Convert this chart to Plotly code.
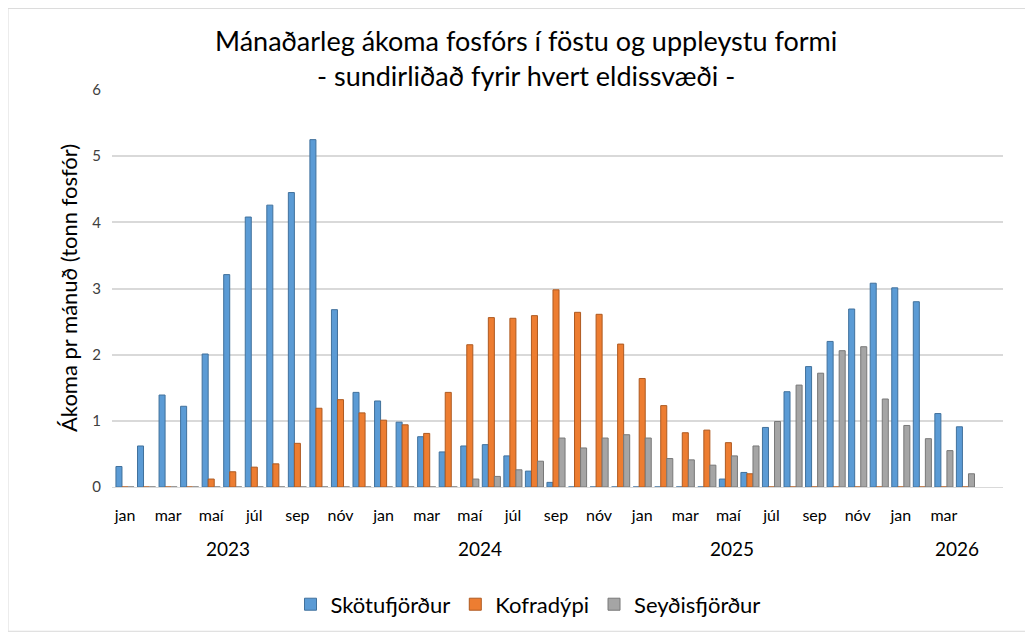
import plotly.graph_objects as go

month_names = ["jan", "feb", "mar", "apr", "maí", "jún", "júl", "ágú", "sep", "okt", "nóv", "des"]
years = [2023, 2024, 2025, 2026]
n_months = 40  # jan 2023 .. apr 2026
month_idx = list(range(n_months))
month_labels = [month_names[i % 12] for i in month_idx]

skotufjordur = [0.31, 0.62, 1.39, 1.22, 2.01, 3.21, 4.08, 4.26, 4.45, 5.25, 2.68, 1.43,
                1.30, 0.98, 0.76, 0.53, 0.62, 0.64, 0.47, 0.24, 0.07, 0.0, 0.0, 0.0,
                0.0, 0.0, 0.0, 0.0, 0.12, 0.22, 0.90, 1.44, 1.82, 2.20, 2.69, 3.08,
                3.01, 2.80, 1.11, 0.91]
kofradypi = [0.0, 0.0, 0.0, 0.0, 0.12, 0.23, 0.30, 0.35, 0.66, 1.19, 1.32, 1.12,
             1.01, 0.94, 0.81, 1.43, 2.15, 2.56, 2.55, 2.59, 2.98, 2.64, 2.61, 2.16,
             1.64, 1.23, 0.82, 0.86, 0.67, 0.20, 0.0, 0.0, 0.0, 0.0, 0.0, 0.0,
             0.0, 0.0, 0.0, 0.0]
seydisfjordur = [0.0, 0.0, 0.0, 0.0, 0.0, 0.0, 0.0, 0.0, 0.0, 0.0, 0.0, 0.0,
                 0.0, 0.0, 0.0, 0.0, 0.12, 0.16, 0.26, 0.39, 0.74, 0.59, 0.74, 0.79,
                 0.74, 0.43, 0.41, 0.33, 0.47, 0.62, 0.99, 1.54, 1.72, 2.06, 2.12, 1.33,
                 0.93, 0.73, 0.55, 0.20]

series = [
    ("Skötufjörður", skotufjordur, "#5B9BD5", "#41719C"),
    ("Kofradýpi", kofradypi, "#ED7D31", "#AE5A21"),
    ("Seyðisfjörður", seydisfjordur, "#A5A5A5", "#787878"),
]

FONT = "Lato"
OFF = 8  # page body margin
W, H = 1033 - OFF, 638 - OFF
L, T = 112 - OFF, 90 - OFF
PW, PH = 1003 - 112, 489 - 90
R = W - L - PW
B = H - T - PH

px_per = 21.55
def dx(xp):  # page x -> data x (jan 2023 label centre at page x=125)
    return (xp - 125) / px_per
def ppx(xp):  # page x -> paper x
    return (xp - 112) / PW
def ppy(yp):  # page y -> paper y
    return (489 - yp) / PH

fig = go.Figure()
for name, vals, col, edge in series:
    fig.add_trace(go.Bar(
        x=month_idx, y=vals, name=name,
        marker=dict(color=col, line=dict(color=edge, width=1)),
    ))

fig.update_layout(
    width=W, height=H,
    margin=dict(l=L, r=R, t=T, b=B),
    paper_bgcolor="white", plot_bgcolor="white",
    font=dict(family=FONT, color="#595959"),
    barmode="group", bargap=0.16, bargroupgap=0.0,
    showlegend=True,
    legend=dict(
        orientation="h", x=ppx(528), xanchor="center",
        y=ppy(607), yanchor="middle",
        font=dict(family=FONT, size=22, color="#000000"),
        tracegroupgap=0,
    ),
    xaxis=dict(
        range=[dx(112), dx(1003)],
        tickmode="array",
        tickvals=month_idx[::2],
        ticktext=month_labels[::2],
        tickfont=dict(family=FONT, size=16, color="#000000"),
        ticks="", showgrid=False, zeroline=False,
        showline=True, linecolor="#D9D9D9", linewidth=1,
        ticklabelstandoff=14,
    ),
    yaxis=dict(
        range=[0, 6], dtick=1,
        tickfont=dict(family=FONT, size=15, color="#404040"),
        showgrid=True, gridcolor="#D9D9D9", gridwidth=1.5,
        zeroline=False, showline=False, ticks="",
        ticklabelstandoff=10,
    ),
)

# title
fig.add_annotation(
    text="Mánaðarleg ákoma fosfórs í föstu og uppleystu formi<br>- sundirliðað fyrir hvert eldissvæði -",
    xref="paper", yref="paper", x=ppx(526), y=ppy(58),
    xanchor="center", yanchor="middle", showarrow=False,
    font=dict(family=FONT, size=27, color="#000000"),
)

# y-axis title
fig.add_annotation(
    text="Ákoma pr mánuð (tonn fosfór)", textangle=-90,
    xref="paper", yref="paper", x=ppx(68), y=ppy(289),
    xanchor="center", yanchor="middle", showarrow=False,
    font=dict(family=FONT, size=22, color="#000000"),
)

# year labels
year_px = {2023: 228, 2024: 480, 2025: 732, 2026: 957}
for yr in years:
    fig.add_annotation(
        text=str(yr), xref="x", yref="paper",
        x=dx(year_px[yr]), y=ppy(551),
        xanchor="center", yanchor="middle", showarrow=False,
        font=dict(family=FONT, size=19, color="#000000"),
    )

# outer chart border (right and bottom edges visible in reference)
fig.add_shape(
    type="rect", xref="paper", yref="paper",
    x0=ppx(OFF), x1=ppx(1030),
    y0=ppy(634), y1=ppy(OFF),
    line=dict(color="#D9D9D9", width=1), fillcolor="rgba(0,0,0,0)", layer="below",
)

fig.write_html("out.html")
